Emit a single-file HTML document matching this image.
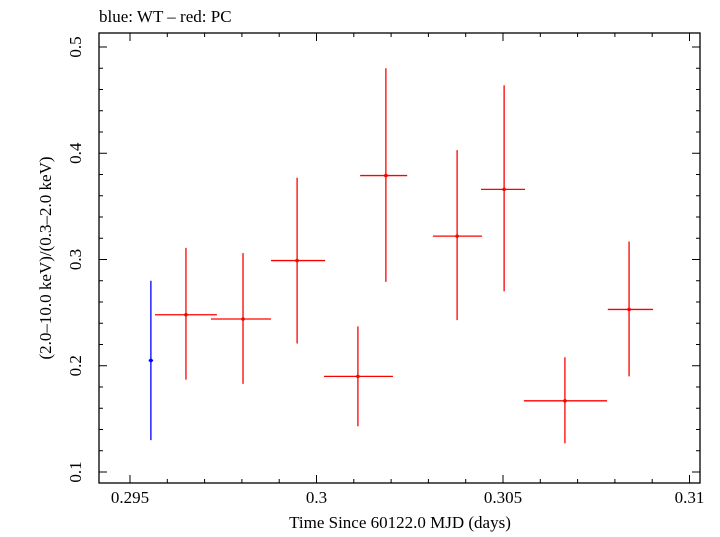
<!DOCTYPE html>
<html><head><meta charset="utf-8"><style>
body{margin:0;background:#fff;}
svg text{font-family:"Liberation Serif",serif;fill:#000;}
</style></head><body>
<svg id="c" width="720" height="532" xmlns="http://www.w3.org/2000/svg">
<text x="99" y="22" font-size="17">blue: WT – red: PC</text>
<text transform="translate(51,258) rotate(-90)" text-anchor="middle" font-size="17">(2.0–10.0 keV)/(0.3–2.0 keV)</text>
<text x="400" y="528" text-anchor="middle" font-size="17">Time Since 60122.0 MJD (days)</text>
<g id="axes"></g><g id="marks"></g>
</svg>
<script>
const blueT=[0.29556];
const blueTLo=[0.29550];
const blueTHi=[0.29562];
const blueY=[0.205];
const blueYLo=[0.130];
const blueYHi=[0.280];
const redT=[0.2965,0.29803,0.29948,0.30111,0.30186,0.30377,0.30503,0.30666,0.30838];
const redTLo=[0.29567,0.29717,0.29878,0.3002,0.30117,0.30312,0.30441,0.30556,0.30781];
const redTHi=[0.29733,0.29878,0.30023,0.30205,0.30243,0.30444,0.30559,0.30779,0.30902];
const redY=[0.248,0.244,0.299,0.190,0.379,0.322,0.366,0.167,0.253];
const redYLo=[0.187,0.183,0.221,0.143,0.279,0.243,0.270,0.127,0.190];
const redYHi=[0.311,0.306,0.377,0.237,0.480,0.403,0.464,0.208,0.317];
const xTicks=[0.295,0.3,0.305,0.31];
const xTickLabels=["0.295","0.3","0.305","0.31"];
const yTicks=[0.1,0.2,0.3,0.4,0.5];
const yTickLabels=["0.1","0.2","0.3","0.4","0.5"];

const L=99,R=700,T=33,B=483;
const xs=t=>130+(t-0.295)*37300;
const ys=v=>472-(v-0.1)*1062.5;
const NS="http://www.w3.org/2000/svg";
function mk(p,tag,a){const e=document.createElementNS(NS,tag);for(const k in a)e.setAttribute(k,a[k]);p.appendChild(e);return e;}
const ax=document.getElementById('axes');
const fr=mk(ax,'rect',{x:L,y:T,width:R-L,height:B-T,fill:'none',stroke:'#000','stroke-width':1.3});


for(let i=0;i<=16;i++){const t=0.294+i*0.001;const x=xs(t);if(x<L||x>R)continue;
 const major=Math.abs(t*200-Math.round(t*200))<1e-6;const len=major?8:4;
 const a=mk(ax,'line',{x1:x,x2:x,y1:B,y2:B-len,stroke:'#000'});
 
 
 const b=mk(ax,'line',{x1:x,x2:x,y1:T,y2:T+len,stroke:'#000'});
 
 }
for(let i=0;i<=25;i++){const v=0.08+i*0.02;const y=ys(v);if(y<T||y>B)continue;
 const major=Math.abs(v*10-Math.round(v*10))<1e-6;const len=major?8:4;
 const a=mk(ax,'line',{x1:L,x2:L+len,y1:y,y2:y,stroke:'#000'});
 
 
 const b=mk(ax,'line',{x1:R,x2:R-len,y1:y,y2:y,stroke:'#000'});
 
 }
xTicks.forEach((t,i)=>{const e=mk(ax,'text',{x:xs(t),y:503,'text-anchor':'middle','font-size':17});e.textContent=xTickLabels[i];
 
 });
yTicks.forEach((v,i)=>{const e=mk(ax,'text',{transform:`translate(81,${ys(v)}) rotate(-90)`,'text-anchor':'middle','font-size':17});e.textContent=yTickLabels[i];
 
 });
const mg=document.getElementById('marks');
function draw(T0,TL,TH,Y,YL,YH,col,name){
 for(let i=0;i<T0.length;i++){const g=mk(mg,'g',{stroke:col,'stroke-width':1.3});
  
  
  mk(g,'line',{x1:xs(TL[i]),x2:xs(TH[i]),y1:ys(Y[i]),y2:ys(Y[i])});
  mk(g,'line',{x1:xs(T0[i]),x2:xs(T0[i]),y1:ys(YL[i]),y2:ys(YH[i])});
  mk(g,'circle',{cx:xs(T0[i]),cy:ys(Y[i]),r:1.8,fill:col,stroke:'none'});}
}
draw(redT,redTLo,redTHi,redY,redYLo,redYHi,'#f00','pc');
draw(blueT,blueTLo,blueTHi,blueY,blueYLo,blueYHi,'#00f','wt');
</script>
</body></html>
